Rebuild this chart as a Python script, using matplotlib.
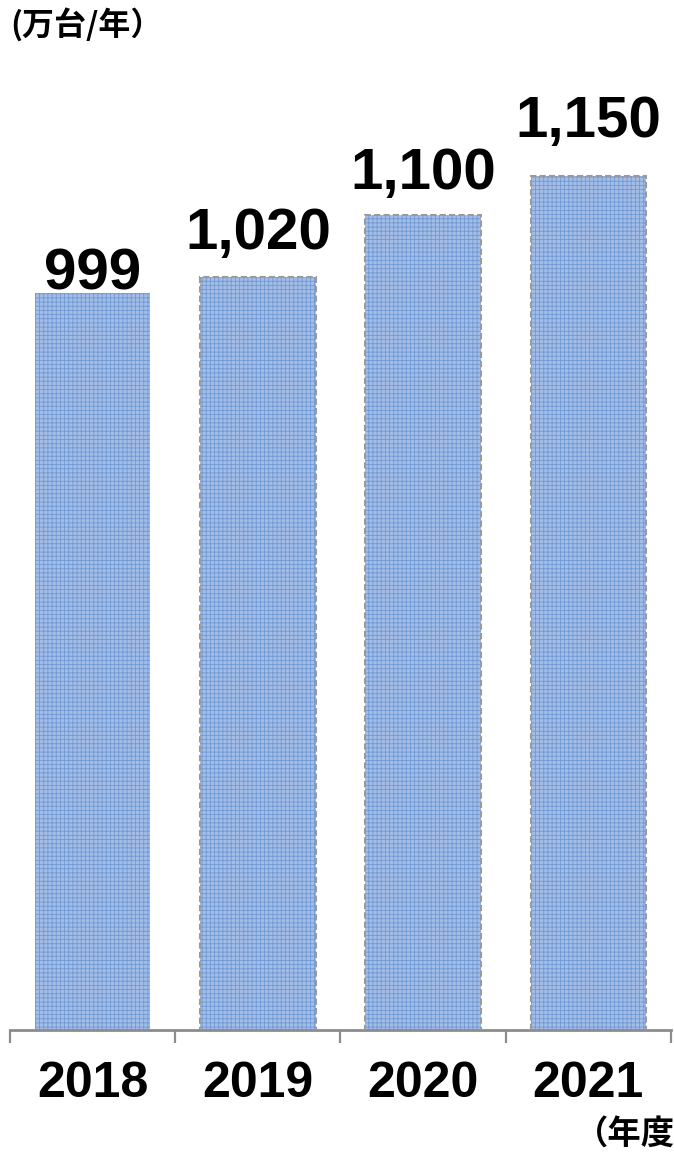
import matplotlib
matplotlib.use('Agg')
import matplotlib.pyplot as plt

# data
years = ['2018', '2019', '2020', '2021']
values = [999, 1020, 1100, 1150]
value_labels = ['999', '1,020', '1,100', '1,150']
dashed_edge = [False, True, True, True]

# gap between bar top and label baseline (points), as laid out in the original
label_gap = [3, 20, 19, 28]

plt.rcParams['font.family'] = ['Liberation Sans', 'Noto Sans CJK JP', 'DejaVu Sans']
plt.rcParams['hatch.linewidth'] = 0.6

fig = plt.figure(figsize=(6.74, 11.55), dpi=100)
ax = fig.add_axes([10 / 674, 125 / 1155, 661 / 674, 970 / 1155])

x = list(range(len(years)))
# filled bars with fine grid pattern
ax.bar(x, values, width=0.70, color='#a3bde6', edgecolor='#7199d4',
       hatch='++++', linewidth=0, zorder=2)
# dashed grey outlines
for xi, v, d in zip(x, values, dashed_edge):
    if d:
        ax.bar(xi, v, width=0.70, fill=False, edgecolor='#9a9a9a',
               linewidth=1.5, linestyle=(0, (3, 1.5)), zorder=3)

for xi, v, lab, g in zip(x, values, value_labels, label_gap):
    ax.annotate(lab, (xi, v), xytext=(0, g), textcoords='offset points',
                ha='center', va='baseline', fontsize=42, fontweight='bold',
                color='black')

ax.set_xlim(-0.5, 3.5)
ax.set_ylim(48, 1300)

for s in ['top', 'right', 'left']:
    ax.spines[s].set_visible(False)
ax.spines['bottom'].set_color('#8c8c8c')
ax.spines['bottom'].set_linewidth(2)
ax.set_yticks([])

ax.set_xticks(x)
ax.set_xticklabels(years, fontsize=36, fontweight='bold')
ax.tick_params(axis='x', which='major', length=0, pad=22)
ax.set_xticks([-0.5, 0.5, 1.5, 2.5, 3.5], minor=True)
ax.tick_params(axis='x', which='minor', length=9, width=1.6, color='#8c8c8c')

fig.text(10 / 674, 1 - 25 / 1155, '(万台/年）', fontsize=23, fontweight='bold',
         family=['Noto Sans CJK JP', 'DejaVu Sans'], ha='left', va='center')
fig.text(575 / 674, 1 - 1135 / 1155, '（年度', fontsize=24, fontweight='bold',
         family=['Noto Sans CJK JP', 'DejaVu Sans'], ha='left', va='center')

fig.savefig('out.png', dpi=100)
